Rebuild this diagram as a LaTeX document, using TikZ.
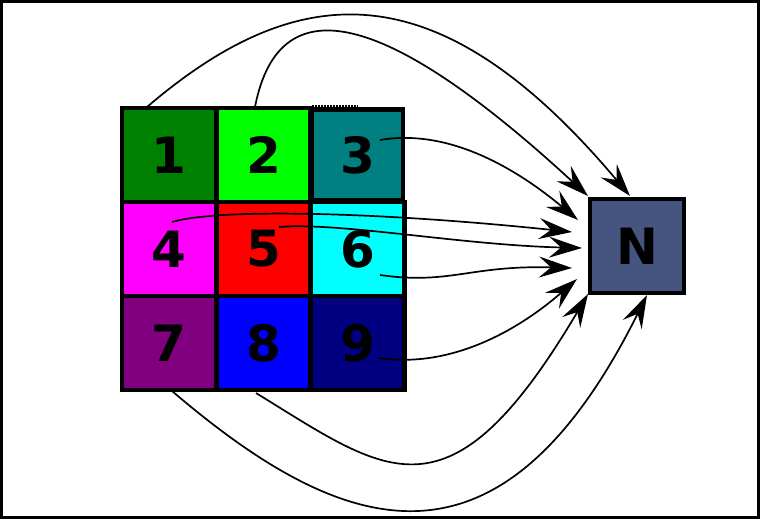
\documentclass[tikz,border=0pt]{standalone}
\usepackage{fontspec}
\setmainfont{DejaVu Sans}
\usetikzlibrary{arrows.meta}
\definecolor{cA}{RGB}{0,128,0}
\definecolor{cB}{RGB}{0,255,0}
\definecolor{cC}{RGB}{0,128,128}
\definecolor{cD}{RGB}{255,0,255}
\definecolor{cE}{RGB}{255,0,0}
\definecolor{cF}{RGB}{0,255,255}
\definecolor{cG}{RGB}{128,0,128}
\definecolor{cH}{RGB}{0,0,255}
\definecolor{cI}{RGB}{0,0,128}
\definecolor{cN}{RGB}{69,85,128}
\begin{document}
\begin{tikzpicture}[x=1pt,y=-1pt,
  cell/.style={draw=black,line width=4.5pt,rectangle,minimum size=94pt,inner sep=0pt,
    font=\bfseries\fontsize{50}{50}\selectfont},
  conn/.style={line width=1.7pt,-{Stealth[length=33pt,width=21pt,inset=12pt]}}]
\useasboundingbox (0,0) rectangle (760,519);
\draw[line width=3pt] (1.5,1.5) rectangle (758.5,517.5);
% grid
\node[cell,fill=cA] (c1) at (169,155) {1};
\node[cell,fill=cB] (c2) at (263.5,155) {2};
\node[cell,fill=cC,minimum size=91pt] (c3) at (357.5,155) {3};
\node[cell,fill=cD] (c4) at (169,249) {4};
\node[cell,fill=cE] (c5) at (263.5,249) {5};
\node[cell,fill=cF] (c6) at (357.5,249) {6};
\node[cell,fill=cG] (c7) at (169,343) {7};
\node[cell,fill=cH] (c8) at (263.5,343) {8};
\node[cell,fill=cI] (c9) at (357.5,343) {9};
\node[cell,fill=cN] (n) at (637,246) {N};
\coordinate (d1) at (312,106);
\coordinate (d2) at (358,106);
\draw[line width=1.2pt,dash pattern=on 1.5pt off 1.5pt] (d1) -- (d2);
% start points
\coordinate (s1) at (147,107);
\coordinate (s2) at (255,107);
\coordinate (s3) at (380,140);
\coordinate (s4) at (172,222);
\coordinate (s5) at (279,227);
\coordinate (s6) at (380,275);
\coordinate (s9) at (378,358);
\coordinate (s8) at (256,393);
\coordinate (s7) at (172,391);
% end points
\coordinate (e1) at (630,196);
\coordinate (e2) at (588,196);
\coordinate (e3) at (578,220);
\coordinate (e4) at (572,232);
\coordinate (e5) at (582,248);
\coordinate (e6) at (572,268);
\coordinate (e9) at (577,279);
\coordinate (e8) at (588,294);
\coordinate (e7) at (647,295);
\draw[conn] (s1) .. controls (300,-24) and (440,-30) .. (e1);
\draw[conn] (s2) .. controls (280,-22) and (395,18) .. (e2);
\draw[conn] (s3) .. controls (450,128) and (518,170) .. (e3);
\draw[conn] (s4) .. controls (220,208) and (380,212) .. (e4);
\draw[conn] (s5) .. controls (340,222) and (460,245) .. (e5);
\draw[conn] (s6) .. controls (450,285) and (470,265) .. (e6);
\draw[conn] (s9) .. controls (460,370) and (530,320) .. (e9);
\draw[conn] (s8) .. controls (388,474) and (449,529) .. (e8);
\draw[conn] (s7) .. controls (344,538) and (500,590) .. (e7);
\end{tikzpicture}
\end{document}
